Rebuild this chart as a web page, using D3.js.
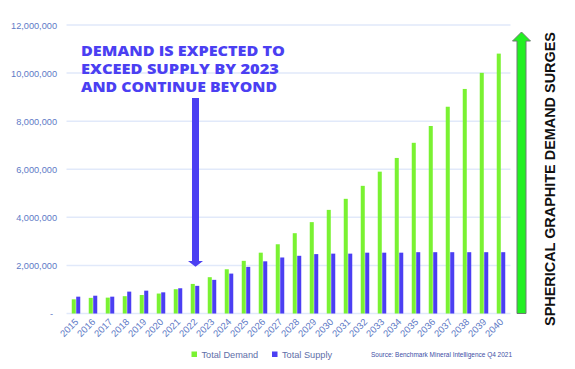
<!DOCTYPE html>
<html>
<head>
<meta charset="utf-8">
<script src="https://cdn.jsdelivr.net/npm/d3@7"></script>
<style>
  body { margin: 0; background: #fff; }
  svg { display: block; font-family: "Liberation Sans", Arial, sans-serif; }
</style>
</head>
<body>
<svg id="chart" width="575" height="369"></svg>
<script>
var years = ['2015', '2016', '2017', '2018', '2019', '2020', '2021', '2022', '2023', '2024', '2025', '2026', '2027',
  '2028', '2029', '2030', '2031', '2032', '2033', '2034', '2035', '2036', '2037', '2038', '2039', '2040'];
var totalDemand = [590000, 650000, 660000, 720000, 770000, 830000, 1010000, 1230000, 1510000, 1840000, 2190000, 2530000, 2880000,
  3340000, 3800000, 4310000, 4770000, 5310000, 5900000, 6470000, 7100000, 7800000, 8600000, 9340000, 10010000, 10810000];
var totalSupply = [700000, 740000, 700000, 910000, 950000, 880000, 1050000, 1150000, 1400000, 1660000, 1940000, 2170000, 2330000,
  2400000, 2470000, 2490000, 2490000, 2530000, 2530000, 2530000, 2550000, 2550000, 2550000, 2550000, 2550000, 2550000];
var yTicks = [0, 2000000, 4000000, 6000000, 8000000, 10000000, 12000000];
var seriesNames = ['Total Demand', 'Total Supply'];
var seriesColors = ['#7af232', '#4b3ff2'];
var noteLines = ['DEMAND IS EXPECTED TO', 'EXCEED SUPPLY BY 2023', 'AND CONTINUE BEYOND'];
var sideLabel = 'SPHERICAL GRAPHITE DEMAND SURGES';
var sourceLabel = 'Source: Benchmark Mineral Intelligence Q4 2021';

var svg = d3.select('#chart');
var LEFT = 67.5, RIGHT = 509.5, TOP = 25, BOTTOM = 313.5;

var x = d3.scaleBand().domain(years).range([LEFT, RIGHT]).paddingInner(0.5).paddingOuter(0.25);
var xInner = d3.scaleBand().domain(seriesNames).range([0, x.bandwidth()]).paddingInner(0.1);
var y = d3.scaleLinear().domain([0, 12000000]).range([BOTTOM, TOP]);

// gridlines
svg.append('g').selectAll('line')
  .data(yTicks)
  .enter()
  .append('line')
  .attr('x1', LEFT - 1)
  .attr('x2', RIGHT + 1)
  .attr('y1', function(d) { return y(d); })
  .attr('y2', function(d) { return y(d); })
  .attr('stroke', '#e1e9fa')
  .attr('stroke-width', 1.5);

// y labels
var yAxis = d3.axisLeft(y).tickValues(yTicks).tickSize(0).tickPadding(0)
  .tickFormat(function(d) { return d === 0 ? '-' : d3.format(',')(d); });
var yG = svg.append('g').attr('transform', 'translate(57,0)').call(yAxis);
yG.select('.domain').remove();
yG.selectAll('text')
  .attr('fill', '#5e7ac6')
  .style('font-size', '9.2px')
  .attr('dy', '0.35em')
  .attr('dx', function(d) { return d === 0 ? -4 : 0; });

// bars
var data = years.map(function(yr, i) { return { year: yr, values: [totalDemand[i], totalSupply[i]] }; });
var groups = svg.append('g').selectAll('g')
  .data(data)
  .enter()
  .append('g')
  .attr('transform', function(d) { return 'translate(' + x(d.year) + ',0)'; });
groups.selectAll('rect')
  .data(function(d) { return d.values.map(function(v, k) { return { name: seriesNames[k], value: v, k: k }; }); })
  .enter()
  .append('rect')
  .attr('x', function(d) { return xInner(d.name); })
  .attr('width', xInner.bandwidth())
  .attr('y', function(d) { return y(d.value); })
  .attr('height', function(d) { return BOTTOM - y(d.value); })
  .attr('fill', function(d) { return seriesColors[d.k]; });

// x labels
var xAxis = d3.axisBottom(x).tickSize(0).tickPadding(0);
var xG = svg.append('g').attr('transform', 'translate(0,' + (BOTTOM + 3) + ')').call(xAxis);
xG.select('.domain').remove();
xG.selectAll('text')
  .attr('fill', '#5e7ac6')
  .style('font-size', '9.5px')
  .attr('text-anchor', 'end')
  .attr('dy', 0)
  .attr('transform', 'translate(3,6) rotate(-45)');

// annotation text
svg.append('g').selectAll('text')
  .data(noteLines)
  .enter()
  .append('text')
  .attr('x', 81)
  .attr('y', function(d, i) { return 56 + i * 18; })
  .attr('textLength', function(d, i) { return [204, 198, 196][i]; })
  .attr('lengthAdjust', 'spacingAndGlyphs')
  .attr('fill', '#4b3ff2')
  .style('font-family', '"Open Sans", sans-serif')
  .style('font-weight', 800)
  .style('font-size', '14.5px')
  .text(function(d) { return d; });

// blue arrow down to 2022
var bx = x('2022') + x.bandwidth() / 2 + 0.5;
svg.append('path')
  .attr('d', d3.line()([[bx - 3.5, 98], [bx + 3.5, 98], [bx + 3.5, y(2180000)], [bx + 7.5, y(2180000)],
    [bx, y(1940000)], [bx - 7.5, y(2180000)], [bx - 3.5, y(2180000)]]) + 'Z')
  .attr('fill', '#4b3ff2');

// green arrow on right
var gx = 521.5;
svg.append('path')
  .attr('d', d3.line()([[gx - 4.5, BOTTOM], [gx + 4.5, BOTTOM], [gx + 4.5, 41], [gx + 9, 41],
    [gx, 32], [gx - 9, 41], [gx - 4.5, 41]]) + 'Z')
  .attr('fill', '#22f022')
  .attr('stroke', '#6d7d70')
  .attr('stroke-width', 1);

// vertical label
svg.append('text')
  .attr('transform', 'translate(555,' + 179 + ') rotate(-90)')
  .attr('text-anchor', 'middle')
  .attr('textLength', 294)
  .attr('lengthAdjust', 'spacingAndGlyphs')
  .attr('fill', '#111')
  .style('font-weight', 'bold')
  .style('font-size', '14px')
  .text(sideLabel);

// legend
var legend = svg.append('g').selectAll('g')
  .data(seriesNames)
  .enter()
  .append('g')
  .attr('transform', function(d, i) { return 'translate(' + [191.5, 272][i] + ',351.5)'; });
legend.append('rect')
  .attr('width', 5.5)
  .attr('height', 5.5)
  .attr('fill', function(d, i) { return seriesColors[i]; });
legend.append('text')
  .attr('x', 10)
  .attr('y', 6)
  .attr('fill', '#5e6ea8')
  .style('font-size', '9.2px')
  .text(function(d) { return d; });

// source
svg.append('text')
  .attr('x', 371)
  .attr('y', 356.5)
  .attr('textLength', 141)
  .attr('lengthAdjust', 'spacingAndGlyphs')
  .attr('fill', '#3e4fa6')
  .style('font-size', '7px')
  .text(sourceLabel);
</script>
</body>
</html>
